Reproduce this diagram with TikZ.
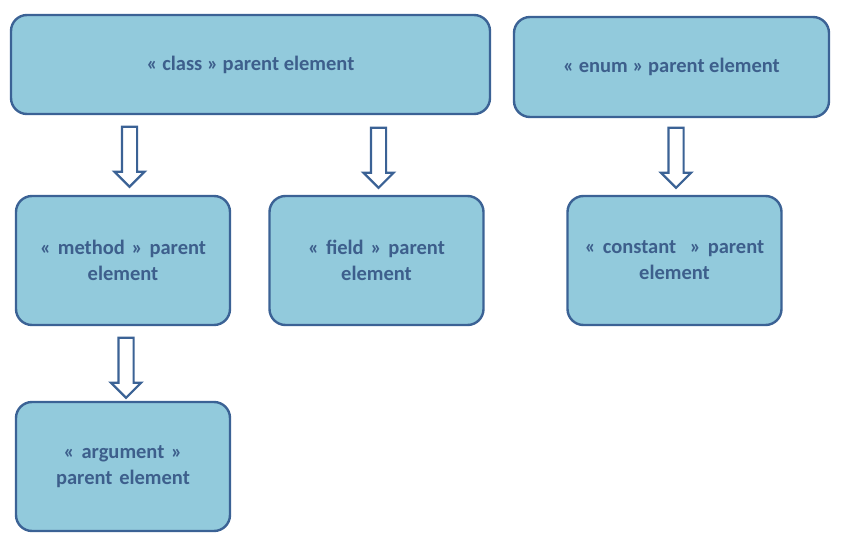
\documentclass[tikz,border=0pt]{standalone}
\usepackage{fontspec}
\setmainfont{Carlito}
\usepackage{tikz}
\usetikzlibrary{shapes.arrows}
\usetikzlibrary{positioning}

\definecolor{boxfill}{HTML}{92CADC}
\definecolor{boxline}{HTML}{3B6295}
\definecolor{boxtext}{HTML}{3D5F8C}

\begin{document}
\begin{tikzpicture}[x=1pt,y=-1pt,
  elem/.style={draw=boxline, fill=boxfill, line width=2.4pt, rounded corners=16pt,
               text=boxtext, font=\fontsize{20.5}{26}\selectfont\bfseries,
               align=center, inner sep=0pt},
  smallelem/.style={elem, minimum width=214pt, minimum height=129pt, text width=190pt},
  downarrow/.style={single arrow, draw=boxline, fill=white, line width=2.2pt,
               minimum height=60pt, minimum width=0pt, inner sep=6.5pt,
               single arrow head extend=7.5pt, shape border rotate=270}]
\useasboundingbox (0,0) rectangle (843,551);
% parent elements
\node[elem, minimum width=479pt, minimum height=99pt] (class) at (250.5,64.5)
  {\raisebox{-2.5pt}{« class » parent element}};
\node[elem, minimum width=315pt, minimum height=100pt] (enum) at (671.5,67)
  {\raisebox{-2pt}{« enum » parent element}};
\node[smallelem] (method) at (123,260.5) {« method » parent\\element};
\node[smallelem] (field) at (376.5,260.5) {« field » parent\\element};
\node[smallelem] (constant) at (674.5,260.5) {« constant~ » parent\\element};
\node[smallelem] (argument) at (123,466.5) {« argument »\\parent element};
% arrows
\node[downarrow] (a1) at (129.5,153) {};
\node[downarrow] (a2) at (378.5,154) {};
\node[downarrow] (a3) at (676,154) {};
\node[downarrow] (a4) at (126,364) {};
\end{tikzpicture}
\end{document}
